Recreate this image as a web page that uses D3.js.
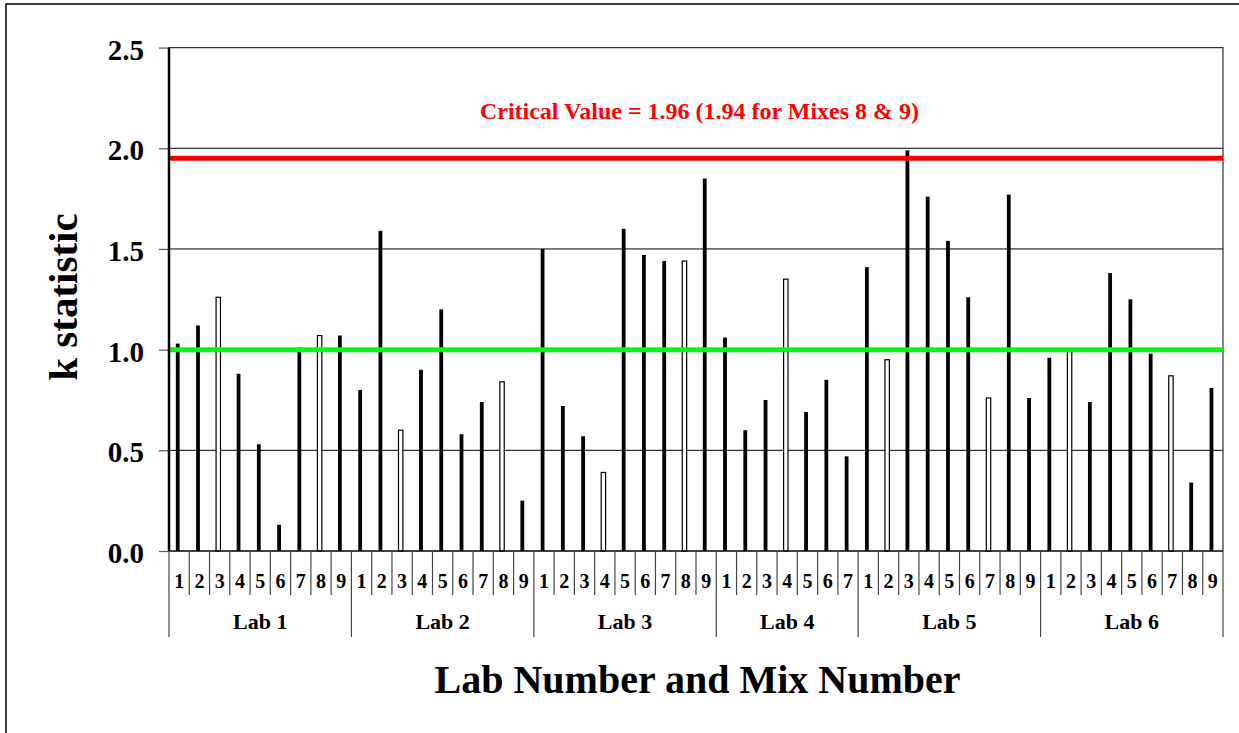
<!DOCTYPE html>
<html>
<head>
<meta charset="utf-8">
<script src="https://cdn.jsdelivr.net/npm/d3@7"></script>
<style>
  html, body { margin: 0; padding: 0; background: #fff; }
  svg { display: block; }
  text { font-family: "Liberation Serif", "Times New Roman", serif; font-weight: bold; }
</style>
</head>
<body>
<svg id="chart" width="1239" height="733"></svg>
<script>
// ---- data ----
const labs = ["Lab 1", "Lab 2", "Lab 3", "Lab 4", "Lab 5", "Lab 6"];
const kLab1 = [1.03, 1.12, 1.26, 0.88, 0.53, 0.13, 1.01, 1.07, 1.07];
const kLab2 = [0.80, 1.59, 0.60, 0.90, 1.20, 0.58, 0.74, 0.84, 0.25];
const kLab3 = [1.50, 0.72, 0.57, 0.39, 1.60, 1.47, 1.44, 1.44, 1.85];
const kLab4 = [1.06, 0.60, 0.75, 1.35, 0.69, 0.85, 0.47];
const kLab5 = [1.41, 0.95, 1.99, 1.76, 1.54, 1.26, 0.76, 1.77, 0.76];
const kLab6 = [0.96, 0.99, 0.74, 1.38, 1.25, 0.98, 0.87, 0.34, 0.81];
const kValues = [kLab1, kLab2, kLab3, kLab4, kLab5, kLab6];
// mixes drawn as open (white) bars, per lab
const openMixes = [[3, 8], [3, 8], [4, 8], [4], [2, 7], [2, 7]];
const yTicks = [0, 0.5, 1.0, 1.5, 2.0, 2.5];
const criticalValue = 1.95;
const referenceValue = 1.0;
const criticalLabel = "Critical Value = 1.96 (1.94 for Mixes 8 & 9)";
const yTitle = "k statistic";
const xTitle = "Lab Number and Mix Number";

const FONT = "'Liberation Serif', 'Times New Roman', serif";

// ---- flatten ----
const rows = [];
kValues.forEach((vals, li) => {
  vals.forEach((v, mi) => {
    rows.push({ lab: labs[li], labIndex: li, mix: String(mi + 1), key: li + "-" + (mi + 1),
                value: v, open: openMixes[li].includes(mi + 1) });
  });
});

// ---- layout ----
const svg = d3.select("#chart");
const L = 169, R = 1223, T = 47.6, B = 551;

// outer frame
svg.append("rect").attr("x", 6).attr("y", 4).attr("width", 1300).attr("height", 800)
  .attr("fill", "#fff").attr("stroke", "#000").attr("stroke-width", 1.5);

const x = d3.scaleBand().domain(rows.map(d => d.key)).range([L, R]).padding(0);
const y = d3.scaleLinear().domain([0, 2.5]).range([B, T]);

// gridlines
svg.append("g").selectAll("line").data(yTicks.filter(t => t > 0 && t < 2.5)).join("line")
  .attr("x1", L).attr("x2", R).attr("y1", d => y(d)).attr("y2", d => y(d))
  .attr("stroke", "#000").attr("stroke-width", 1);

// plot border (top/right)
svg.append("path")
  .attr("d", `M${L},${y(2.5)}H${R}V${B}`)
  .attr("fill", "none").attr("stroke", "#333").attr("stroke-width", 1.2);

// y axis
const yAxis = d3.axisLeft(y).tickValues(yTicks).tickFormat(d3.format(".1f")).tickSize(10).tickPadding(15);
const gy = svg.append("g").attr("transform", `translate(${L},0)`).call(yAxis)
  .attr("font-family", FONT).attr("font-weight", "bold");
gy.select(".domain").remove();
gy.selectAll(".tick line").attr("stroke", "#555").attr("stroke-width", 1.2);
gy.selectAll(".tick text").attr("font-size", 29).attr("fill", "#000")
  .attr("font-family", FONT).attr("font-weight", "bold")
  .attr("dy", "0.4em");

// bars
const barOffset = -1.4;
const bars = svg.append("g");
bars.selectAll("rect").data(rows).join("rect")
  .attr("x", d => x(d.key) + x.bandwidth() / 2 + barOffset - (d.open ? 2.2 : 1.9))
  .attr("width", d => d.open ? 4.4 : 3.8)
  .attr("y", d => y(d.value))
  .attr("height", d => y(0) - y(d.value))
  .attr("fill", d => d.open ? "#fff" : "#000")
  .attr("stroke", d => d.open ? "#000" : "none")
  .attr("stroke-width", 1.2);

// reference lines
svg.append("line").attr("x1", L).attr("x2", R)
  .attr("y1", y(referenceValue)).attr("y2", y(referenceValue))
  .attr("stroke", "#00ff00").attr("stroke-width", 5);
svg.append("line").attr("x1", L).attr("x2", R)
  .attr("y1", y(criticalValue)).attr("y2", y(criticalValue))
  .attr("stroke", "#ff0000").attr("stroke-width", 5);

svg.append("text").attr("x", 699.5).attr("y", 119)
  .attr("text-anchor", "middle").attr("fill", "#ff0000").attr("font-size", 24)
  .attr("font-family", FONT).attr("font-weight", "bold")
  .text(criticalLabel);

// y axis line (left)
svg.append("line").attr("x1", L).attr("x2", L).attr("y1", y(2.5)).attr("y2", B)
  .attr("stroke", "#000").attr("stroke-width", 2.5);
// x axis line
svg.append("line").attr("x1", L).attr("x2", R).attr("y1", B).attr("y2", B)
  .attr("stroke", "#000").attr("stroke-width", 1.5);

// category separators
const xa = svg.append("g");
rows.forEach((d, i) => {
  const isLabStart = i === 0 || rows[i - 1].labIndex !== d.labIndex;
  xa.append("line").attr("x1", x(d.key)).attr("x2", x(d.key))
    .attr("y1", B).attr("y2", isLabStart ? 637 : 595)
    .attr("stroke", "#444").attr("stroke-width", 1.2);
});
xa.append("line").attr("x1", R).attr("x2", R).attr("y1", B).attr("y2", 637)
  .attr("stroke", "#444").attr("stroke-width", 1.2);

// mix labels
xa.selectAll("text.mix").data(rows).join("text").attr("class", "mix")
  .attr("x", d => x(d.key) + x.bandwidth() / 2).attr("y", 588)
  .attr("text-anchor", "middle").attr("font-size", 20).attr("fill", "#000")
  .attr("font-family", FONT).attr("font-weight", "bold")
  .text(d => d.mix);

// lab labels
labs.forEach((lab, li) => {
  const labRows = rows.filter(r => r.labIndex === li);
  const x0 = x(labRows[0].key), x1 = x(labRows[labRows.length - 1].key) + x.bandwidth();
  xa.append("text").attr("x", (x0 + x1) / 2).attr("y", 629)
    .attr("text-anchor", "middle").attr("font-size", 22).attr("fill", "#000")
    .attr("font-family", FONT).attr("font-weight", "bold").text(lab);
});

// titles
svg.append("text").attr("x", 697.5).attr("y", 693)
  .attr("text-anchor", "middle").attr("font-size", 40).attr("fill", "#000")
  .attr("font-family", FONT).attr("font-weight", "bold").text(xTitle);
svg.append("text").attr("transform", "translate(76.5,297) rotate(-90)")
  .attr("text-anchor", "middle").attr("font-size", 41).attr("fill", "#000")
  .attr("font-family", FONT).attr("font-weight", "bold").text(yTitle);
</script>
</body>
</html>
